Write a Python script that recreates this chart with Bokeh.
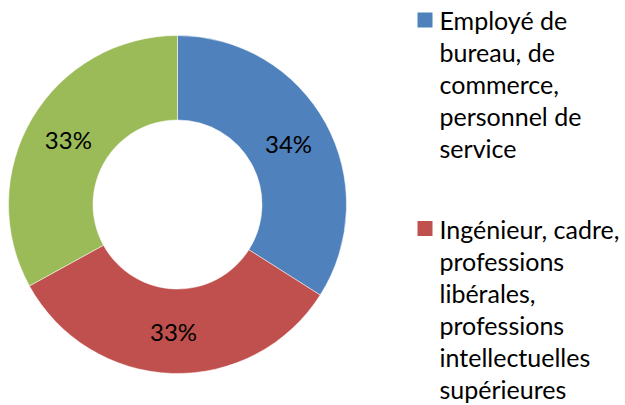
import math
from bokeh.plotting import figure
from bokeh.models import Range1d, ColumnDataSource
from bokeh.core.properties import value
from bokeh.embed import file_html
from bokeh.resources import INLINE

# ---- data ----
values = [34, 33, 33]
pct_labels = ["34%", "33%", "33%"]
colors = ["#4F81BD", "#C0504D", "#9BBB59"]
legend_labels = [
    "Employé de\nbureau, de\ncommerce,\npersonnel de\nservice",
    "Ingénieur, cadre,\nprofessions\nlibérales,\nprofessions\nintellectuelles\nsupérieures",
]

W, H = 625, 405
FONT = "Lato"

p = figure(width=W, height=H, output_backend="svg", toolbar_location=None,
           x_range=Range1d(0, W), y_range=Range1d(0, H), min_border=0)
p.axis.visible = False
p.grid.visible = False
p.outline_line_color = None
p.background_fill_color = "white"
p.border_fill_color = "white"

# screenshot pixel -> figure coordinates
def sx(x):
    return x

def sy(y):
    return H - y

cx, cy = sx(177), sy(204)
R_out, R_in = 169, 84.5

total = float(sum(values))
starts, ends, mids = [], [], []
acc = 0.0
for v in values:
    a0 = math.pi / 2 - 2 * math.pi * acc / total
    a1 = math.pi / 2 - 2 * math.pi * (acc + v) / total
    starts.append(a0)
    ends.append(a1)
    mids.append((a0 + a1) / 2)
    acc += v

src = ColumnDataSource(dict(start=starts, end=ends, color=colors,
                            x=[cx] * len(values), y=[cy] * len(values)))
p.annular_wedge(x="x", y="y", inner_radius=R_in, outer_radius=R_out,
                start_angle="start", end_angle="end", direction="clock",
                fill_color="color", line_color="white", line_width=0.5,
                source=src)

r_lab = (R_out + R_in) / 2
lab_src = ColumnDataSource(dict(
    x=[cx + r_lab * math.cos(a) for a in mids],
    y=[cy + r_lab * math.sin(a) for a in mids],
    t=pct_labels))
p.text(x="x", y="y", text="t", source=lab_src, text_align="center",
       text_baseline="middle", text_font=value(FONT), text_font_size="24px",
       text_color="black")

# legend (line centres, in screenshot pixels)
line_h = 32.0
first_mid = [19.5, 228]
lx, ly, lt = [], [], []
sq_x, sq_y, sq_c = [], [], []
for i, lab in enumerate(legend_labels):
    lines = lab.split("\n")
    m0 = first_mid[i]
    sq_x.append(sx(424.5))
    sq_y.append(sy(m0))
    sq_c.append(colors[i])
    for j, ln in enumerate(lines):
        lx.append(sx(439))
        ly.append(sy(m0 + j * line_h))
        lt.append(ln)

p.rect(x=sq_x, y=sq_y, width=15, height=15, fill_color=sq_c, line_color=None)
p.text(x=lx, y=ly, text=lt, text_align="left", text_baseline="middle",
       text_font=value(FONT), text_font_size="25px", text_color="black")

open("out.html", "w").write(file_html(p, INLINE))
